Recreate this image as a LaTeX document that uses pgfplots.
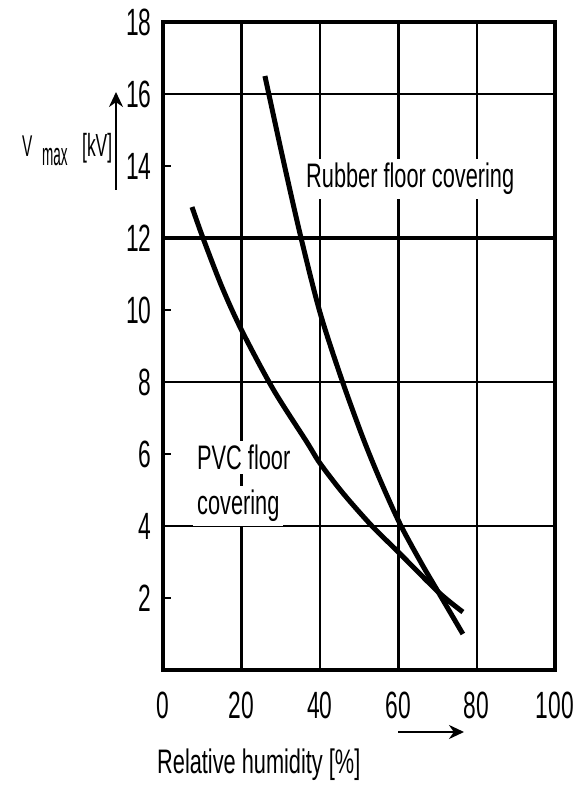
\documentclass[border=0pt]{standalone}
\usepackage{pgfplots}
\pgfplotsset{compat=1.18}
\usepackage{fontspec}
\setmainfont{Liberation Sans}[FakeStretch=0.64]
\newfontfamily\tickfont{Liberation Sans}[FakeStretch=0.6]
\usetikzlibrary{arrows.meta}
\begin{document}
\begin{tikzpicture}[x=1pt,y=1pt]
\path[use as bounding box] (0,0) rectangle (578,793);
\begin{axis}[
  at={(163pt,123pt)}, anchor=south west,
  scale only axis, width=392pt, height=648pt,
  xmin=0, xmax=100, ymin=0, ymax=18,
  xtick={0,20,40,60,80,100}, ytick={2,4,...,18},
  major tick length=0pt,
  xtick pos=bottom, ytick pos=left,
  /pgf/number format/assume math mode=true,
  ticklabel style={font=\tickfont\fontsize{38}{38}\selectfont},
  xticklabel style={yshift=-18pt},
  yticklabel style={xshift=-8pt},
  extra y ticks={2,6,10,14},
  extra y tick labels={},
  extra tick style={major tick length=8pt, tick style={line width=2pt, black}},
  axis line style={line width=4pt},
  clip=false,
]
% grid
\draw[line width=3pt] (axis cs:20,0) -- (axis cs:20,18);
\draw[line width=1.8pt] (axis cs:40,0) -- (axis cs:40,18);
\draw[line width=3pt] (axis cs:60,0) -- (axis cs:60,18);
\draw[line width=1.8pt] (axis cs:80,0) -- (axis cs:80,18);
\draw[line width=1.8pt] (axis cs:0,4) -- (axis cs:100,4);
\draw[line width=1.8pt] (axis cs:0,8) -- (axis cs:100,8);
\draw[line width=3.5pt] (axis cs:0,12) -- (axis cs:100,12);
\draw[line width=1.8pt] (axis cs:0,16) -- (axis cs:100,16);
\draw[line width=4pt] (rel axis cs:0,0) rectangle (rel axis cs:1,1);
% curves
\addplot[line width=5pt, smooth, black] coordinates {
 (26,16.5) (30.5,14.25) (35,12.1) (40,9.95) (45.5,8.1) (51,6.45) (55.5,5.25) (60.5,4.05) (66,2.95) (70.2,2.17) (76.5,1.0)
};
\addplot[line width=5pt, smooth, black] coordinates {
 (7.4,12.86) (10.2,12) (15,10.65) (20,9.45) (28.1,7.8) (36.7,6.33) (40,5.75) (46,4.9) (53.3,4) (60,3.28) (70.2,2.17) (76.5,1.61)
};
\end{axis}
% in-plot labels
\node[fill=white, inner sep=4pt, anchor=base west, font=\fontsize{34}{34}\selectfont] at (302,605) {Rubber floor covering};
\node[fill=white, inner sep=4pt, anchor=base west, font=\fontsize{34}{34}\selectfont] at (193,323) {PVC floor};
\node[fill=white, inner sep=4pt, anchor=base west, font=\fontsize{34}{34}\selectfont] at (193,278) {covering};
% y label
\node[anchor=base west, inner sep=0pt, font=\fontsize{30}{30}\selectfont] at (22,636) {\scalebox{0.8}[1]{V}};
\node[anchor=base west, inner sep=0pt, font=\fontsize{32}{32}\selectfont] at (42,627) {\scalebox{0.66}[1]{max}};
\node[anchor=base west, inner sep=0pt, font=\fontsize{32}{32}\selectfont] at (82,636) {\scalebox{0.85}[1]{[kV]}};
\draw[line width=2.8pt, -{Stealth[length=15pt,width=14pt]}] (116,603) -- (116,701);
% x label
\draw[line width=2.8pt, -{Stealth[length=15pt,width=14pt]}] (398,61) -- (464,61);
\node[anchor=west, inner sep=0pt, font=\fontsize{34}{34}\selectfont] at (157,28) {Relative humidity [\%]};
\end{tikzpicture}
\end{document}
